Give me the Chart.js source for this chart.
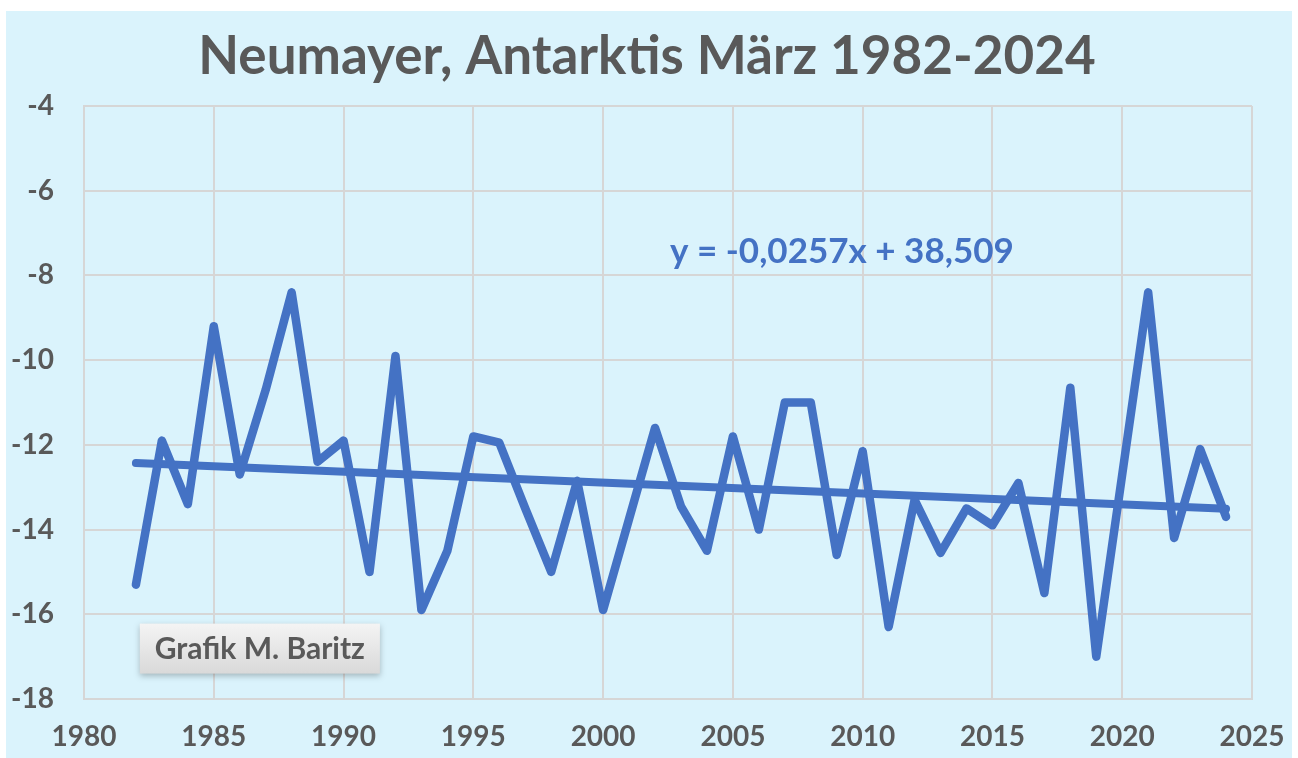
<!DOCTYPE html>
<html>
<head>
<meta charset="utf-8">
<script src="https://cdn.jsdelivr.net/npm/chart.js@4"></script>
<style>
  html, body { margin: 0; padding: 0; background: #ffffff; }
  #wrap { position: absolute; left: 6px; top: 11px; width: 1286px; height: 747px; background: #daf3fc; }
</style>
</head>
<body>
<div id="wrap"><canvas id="lineChart1"></canvas></div>
<script>
const years = [1982, 1983, 1984, 1985, 1986, 1987, 1988, 1989, 1990, 1991,
               1992, 1993, 1994, 1995, 1996, 1997, 1998, 1999, 2000, 2001,
               2002, 2003, 2004, 2005, 2006, 2007, 2008, 2009, 2010, 2011,
               2012, 2013, 2014, 2015, 2016, 2017, 2018, 2019, 2020, 2021,
               2022, 2023, 2024];
const temps = [-15.3, -11.9, -13.4, -9.2, -12.7, -10.7, -8.4, -12.4, -11.9, -15.0,
               -9.9, -15.9, -14.5, -11.8, -11.95, -13.5, -15.0, -12.85, -15.9, -13.75,
               -11.6, -13.45, -14.5, -11.8, -14.0, -11.0, -11.0, -14.6, -12.15, -16.3,
               -13.3, -14.55, -13.5, -13.9, -12.9, -15.5, -10.65, -17.0, -12.7, -8.4,
               -14.2, -12.1, -13.7];
const trendYears = [1982, 2024];
const trendValues = [-12.43, -13.51];
const xTicks = [1980, 1985, 1990, 1995, 2000, 2005, 2010, 2015, 2020, 2025];
const yTicks = [-4, -6, -8, -10, -12, -14, -16, -18];

const titleText = 'Neumayer, Antarktis März 1982-2024';
const equationText = 'y = -0,0257x + 38,509';
const creditText = 'Grafik M. Baritz';

const blue = '#4472c4';
const gray = '#595959';
const gridColor = '#d6d6d6';

const mainPoints = years.map((y, i) => ({ x: y, y: temps[i] }));
const trendPoints = trendYears.map((y, i) => ({ x: y, y: trendValues[i] }));

// title (centred on the whole canvas), equation label and credit box
const extras = {
    id: 'extras',
    beforeDraw(chart) {
        const ctx = chart.ctx;
        ctx.save();
        ctx.font = 'bold 53px Lato';
        ctx.fillStyle = gray;
        ctx.textAlign = 'center';
        ctx.textBaseline = 'middle';
        ctx.fillText(titleText, chart.width / 2 - 2, 46);
        ctx.restore();
    },
    afterDatasetsDraw(chart) {
        const ctx = chart.ctx;
        const xs = chart.scales.x;
        const ys = chart.scales.y;
        ctx.save();
        // trendline equation
        ctx.font = 'bold 35px Lato';
        ctx.fillStyle = blue;
        ctx.textAlign = 'center';
        ctx.textBaseline = 'middle';
        ctx.fillText(equationText, xs.getPixelForValue(2009.2), ys.getPixelForValue(-7.45));

        // credit box
        const l = xs.getPixelForValue(1982.15);
        const r = xs.getPixelForValue(1991.4);
        const t = ys.getPixelForValue(-16.22);
        const b = ys.getPixelForValue(-17.4);
        ctx.shadowColor = 'rgba(0,0,0,0.25)';
        ctx.shadowBlur = 6;
        ctx.shadowOffsetY = 2;
        const g = ctx.createLinearGradient(0, t, 0, b);
        g.addColorStop(0, '#f4f4f4');
        g.addColorStop(1, '#d9d9d9');
        ctx.fillStyle = g;
        ctx.fillRect(l, t, r - l, b - t);
        ctx.shadowColor = 'transparent';
        ctx.font = 'bold 30px Lato';
        ctx.fillStyle = gray;
        ctx.fillText(creditText, (l + r) / 2, (t + b) / 2 + 1);
        ctx.restore();
    }
};

const ctxLine = document.getElementById('lineChart1').getContext('2d');
const lineChart1 = new Chart(ctxLine, {
    type: 'line',
    data: {
        datasets: [{
            label: 'März',
            data: mainPoints,
            borderColor: blue,
            borderWidth: 8.5,
            pointRadius: 0,
            borderJoinStyle: 'round',
            borderCapStyle: 'round',
            tension: 0
        }, {
            label: 'Trend',
            data: trendPoints,
            borderColor: blue,
            borderWidth: 8,
            pointRadius: 0,
            borderCapStyle: 'round'
        }]
    },
    options: {
        animation: false,
        responsive: true,
        maintainAspectRatio: false,
        layout: {
            padding: { left: 0, right: 40, top: 95, bottom: 0 }
        },
        scales: {
            x: {
                type: 'linear',
                min: 1980,
                max: 2025,
                afterBuildTicks: (scale) => { scale.ticks = xTicks.map(v => ({ value: v })); },
                afterFit: (scale) => { scale.height = 59; },
                ticks: {
                    color: gray,
                    padding: 3,
                    maxRotation: 0,
                    font: { size: 28, family: 'Lato', weight: 'bold' },
                    callback: (v) => String(v)
                },
                grid: { color: gridColor, lineWidth: 2, drawTicks: true, tickLength: 18, tickColor: 'transparent' },
                border: { color: gridColor, width: 2 }
            },
            y: {
                min: -18,
                max: -4,
                afterBuildTicks: (scale) => { scale.ticks = yTicks.map(v => ({ value: v })); },
                afterFit: (scale) => { scale.width = 78; },
                ticks: {
                    color: gray,
                    padding: 30,
                    font: { size: 28, family: 'Lato', weight: 'bold' },
                    callback: (v) => String(v)
                },
                grid: { color: gridColor, lineWidth: 2, drawTicks: false },
                border: { color: gridColor, width: 2 }
            }
        },
        plugins: {
            title: { display: false },
            legend: { display: false },
            tooltip: { enabled: false }
        }
    },
    plugins: [extras]
});
</script>
</body>
</html>
